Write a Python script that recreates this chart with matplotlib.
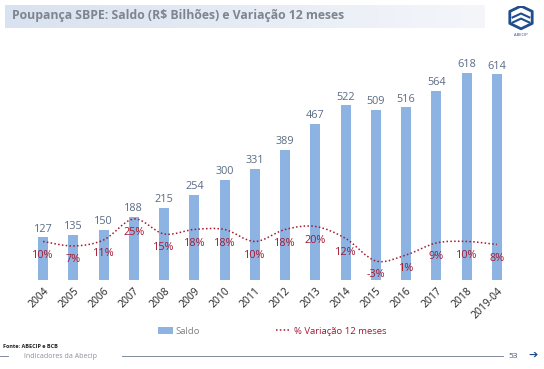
import numpy as np
import matplotlib
matplotlib.use("Agg")
import matplotlib.pyplot as plt
from matplotlib.path import Path
from matplotlib.patches import PathPatch
from matplotlib.lines import Line2D
from matplotlib.patches import Patch
from matplotlib.colors import LinearSegmentedColormap

categories = ["2004", "2005", "2006", "2007", "2008", "2009", "2010", "2011",
              "2012", "2013", "2014", "2015", "2016", "2017", "2018", "2019-04"]
saldo = [127, 135, 150, 188, 215, 254, 300, 331, 389, 467, 522, 509, 516, 564, 618, 614]
variacao = [10, 7, 11, 25, 15, 18, 18, 10, 18, 20, 12, -3, 1, 9, 10, 8]

W, H = 544, 369
fig = plt.figure(figsize=(W / 100, H / 100), dpi=100)
plt.rcParams['font.family'] = ['Open Sans', 'DejaVu Sans']

def fx(px):
    return px / W

def fy(py):
    return 1 - py / H

# Title box with gradient
tax = fig.add_axes([fx(5), fy(28), fx(480), 23 / H])
grad = np.linspace(0, 1, 256).reshape(1, -1)
cm = LinearSegmentedColormap.from_list("g", ["#d9e2f0", "#f4f6fa"])
tax.imshow(grad, aspect="auto", cmap=cm, extent=[0, 1, 0, 1])
tax.set_axis_off()
fig.text(fx(12), fy(16), "Poupança SBPE: Saldo (R$ Bilhões) e Variação 12 meses",
         fontsize=8.8, fontweight="bold", color="#7f8590", va="center", ha="left")

# Logo approximation
lax = fig.add_axes([fx(507), fy(36), 28 / W, 30 / H])
lax.set_xlim(0, 1); lax.set_ylim(0, 1); lax.set_axis_off()
hexx = [0.5, 0.9, 0.9, 0.5, 0.1, 0.1, 0.5]
hexy = [1.0, 0.82, 0.42, 0.24, 0.42, 0.82, 1.0]
lax.plot(hexx, hexy, color="#1f4e8c", lw=2)
lax.plot([0.2, 0.5, 0.8], [0.62, 0.75, 0.62], color="#1f4e8c", lw=1.5)
lax.plot([0.2, 0.5, 0.8], [0.45, 0.58, 0.45], color="#1f4e8c", lw=1.5)
lax.text(0.5, 0.05, "ABECIP", fontsize=3, ha="center", va="center", color="#1f4e8c")

# Main axes
ax = fig.add_axes([fx(28), fy(280), fx(512) - fx(28), (280 - 60) / H])
x = np.arange(len(categories))
bar_color = "#8db3e2"
ax.bar(x, saldo, width=0.33, color=bar_color, zorder=2)
ax.set_ylim(0, 657)
ax.set_xlim(-0.5, len(categories) - 0.5)
for xi, v in zip(x, saldo):
    ax.text(xi, v + 8, f"{v}", ha="center", va="bottom", fontsize=7.8, color="#5b6b84")

for s in ax.spines.values():
    s.set_visible(False)
ax.set_yticks([])
ax.set_xticks(x)
ax.set_xticklabels(categories, rotation=45, ha="right", rotation_mode="anchor",
                   fontsize=7.5, color="#222222")
ax.tick_params(axis="x", length=0, pad=4)

ax2 = ax.twinx()
ax2.set_ylim(-15.7, 131)
ax2.set_yticks([])
for s in ax2.spines.values():
    s.set_visible(False)

# Smoothed dotted line (Catmull-Rom -> cubic Bezier)
line_color = "#a3192f"
pts = np.column_stack([x, variacao]).astype(float)
verts = [tuple(pts[0])]
codes = [Path.MOVETO]
n = len(pts)
for i in range(n - 1):
    p0 = pts[i - 1] if i > 0 else pts[i]
    p1 = pts[i]
    p2 = pts[i + 1]
    p3 = pts[i + 2] if i + 2 < n else pts[i + 1]
    c1 = p1 + (p2 - p0) / 6.0
    c2 = p2 - (p3 - p1) / 6.0
    verts += [tuple(c1), tuple(c2), tuple(p2)]
    codes += [Path.CURVE4] * 3
path = Path(verts, codes)
patch = PathPatch(path, facecolor="none", edgecolor=line_color, lw=1.1,
                  linestyle=(0, (1, 1.5)), zorder=3)
ax2.add_patch(patch)
for xi, v in zip(x, variacao):
    ax2.annotate(f"{v}%", (xi, v), xytext=(0, -6), textcoords="offset points",
                 ha="center", va="top", fontsize=7.8, color=line_color)

# Legend
handles = [Patch(facecolor=bar_color, edgecolor="none", label="Saldo"),
           Line2D([0], [0], color=line_color, lw=1.1, linestyle=(0, (1, 1.5)),
                  label="% Variação 12 meses")]
leg = fig.legend(handles=handles, loc="center", bbox_to_anchor=(fx(272), fy(331)),
                 ncol=2, frameon=False, fontsize=6.8, columnspacing=8,
                 handlelength=1.6, handletextpad=0.3)
leg.get_texts()[0].set_color("#7f7f7f")
leg.get_texts()[1].set_color(line_color)

# Footer
fig.text(fx(3), fy(346), "Fonte: ABECIP e BCB", fontsize=4, fontweight="bold",
         color="#222222", va="center")
fig.add_artist(Line2D([fx(0), fx(8)], [fy(356), fy(356)], color="#6b7a8f", lw=0.6))
fig.add_artist(Line2D([fx(122), fx(503)], [fy(356), fy(356)], color="#6b7a8f", lw=0.6))
fig.text(fx(24), fy(356), "Indicadores da Abecip", fontsize=5, color="#8a8f99", va="center")
fig.text(fx(508), fy(356), "53", fontsize=6, color="#44546a", va="center")
fig.text(fx(528), fy(356), "➔", fontsize=8, color="#1f4e8c", va="center",
         family=["DejaVu Sans"])

fig.savefig("out.png", dpi=100)
